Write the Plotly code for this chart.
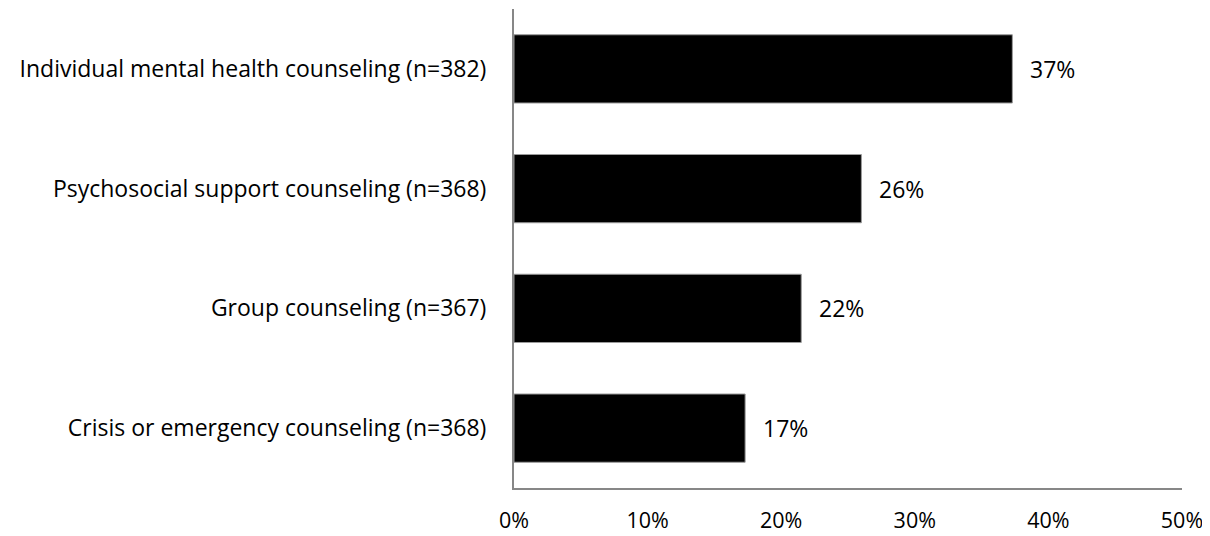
import plotly.graph_objects as go

categories = [
    "Individual mental health counseling (n=382)",
    "Psychosocial support counseling (n=368)",
    "Group counseling (n=367)",
    "Crisis or emergency counseling (n=368)",
]
values = [37.3, 26.0, 21.5, 17.3]
labels = ["37%", "26%", "22%", "17%"]
tick_vals = [0, 10, 20, 30, 40, 50]
tick_text = ["0%", "10%", "20%", "30%", "40%", "50%"]

FONT = "Open Sans"
FS = 23

fig = go.Figure()
fig.add_trace(go.Bar(
    y=categories,
    x=values,
    orientation="h",
    marker=dict(color="#000000", line=dict(color="#9a9a9a", width=1)),
    width=0.57,
    hoverinfo="skip",
))

for c, v, t in zip(categories, values, labels):
    fig.add_annotation(x=v, y=c, text=t, showarrow=False, xanchor="left",
                       xshift=16, font=dict(family=FONT, size=FS, color="#000000"))

fig.update_layout(
    width=1202, height=528,
    margin=dict(l=506, r=28, t=1, b=48, autoexpand=False),
    plot_bgcolor="white", paper_bgcolor="white",
    showlegend=False,
    font=dict(family=FONT, size=FS, color="#000000"),
    xaxis=dict(range=[0, 50], tickvals=tick_vals, ticktext=tick_text,
               tickfont=dict(family=FONT, size=21.5, color="#000000"),
               showgrid=False, zeroline=False, showline=True,
               linecolor="#878787", linewidth=2, ticks="",
               ticklabelstandoff=12, fixedrange=True, automargin=False),
    yaxis=dict(categoryorder="array", categoryarray=categories[::-1],
               showgrid=False, zeroline=False, showline=True,
               linecolor="#878787", linewidth=2, ticks="",
               ticklabelstandoff=21, fixedrange=True, automargin=False),
)

fig.write_html("out.html")
